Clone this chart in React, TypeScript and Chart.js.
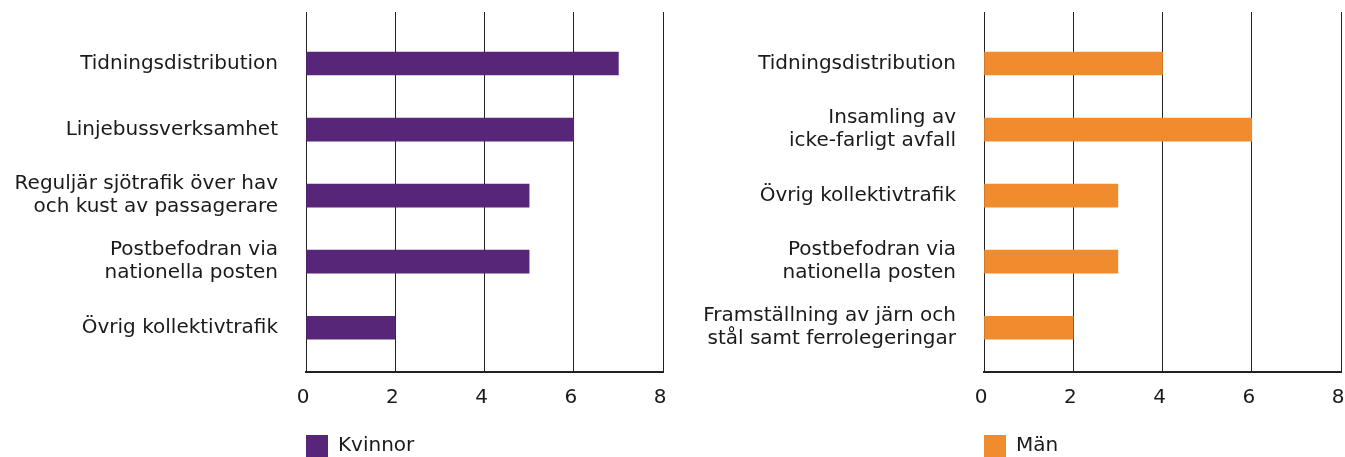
import React, { useEffect, useRef } from "react";
import { Chart, registerables } from "chart.js";

Chart.register(...registerables);

const kvinnorCategories: (string | string[])[] = [
  "Tidningsdistribution",
  "Linjebussverksamhet",
  ["Reguljär sjötrafik över hav", "och kust av passagerare"],
  ["Postbefodran via", "nationella posten"],
  "Övrig kollektivtrafik",
];
const kvinnorValues = [7, 6, 5, 5, 2];

const manCategories: (string | string[])[] = [
  "Tidningsdistribution",
  ["Insamling av", "icke-farligt avfall"],
  "Övrig kollektivtrafik",
  ["Postbefodran via", "nationella posten"],
  ["Framställning av järn och", "stål samt ferrolegeringar"],
];
const manValues = [4, 6, 3, 3, 2];

const xTickValues = [0, 2, 4, 6, 8];
const seriesNames = ["Kvinnor", "Män"];
const seriesColors = ["#582678", "#F08B2E"];

const FONT = "'DejaVu Sans', sans-serif";
const TEXT = "#1a1a1a";

type PanelProps = {
  categories: (string | string[])[];
  values: number[];
  label: string;
  color: string;
  left: number;
  width: number;
  yWidth: number;
  padRight: number;
};

function Panel({ categories, values, label, color, left, width, yWidth, padRight }: PanelProps) {
  const ref = useRef<HTMLCanvasElement>(null);
  useEffect(() => {
    const chart = new Chart(ref.current!, {
      type: "bar",
      data: {
        datasets: [
          {
            label,
            data: values.map((v, i) => ({ x: v, y: i })) as any,
            backgroundColor: color,
            borderWidth: 0,
            barThickness: 23,
          },
        ],
      },
      options: {
        indexAxis: "y",
        responsive: false,
        animation: false,
        layout: { padding: { top: 12, right: padRight, left: 0, bottom: 0 } },
        plugins: {
          legend: {
            position: "bottom",
            align: "start",
            fullSize: false,
            labels: {
              boxWidth: 22,
              boxHeight: 22,
              padding: 0,
              color: TEXT,
              font: { family: FONT, size: 20 },
            },
          },
          tooltip: { enabled: false },
        },
        scales: {
          x: {
            type: "linear",
            min: 0,
            max: 8,
            z: 1,
            afterBuildTicks: (axis: any) => {
              axis.ticks = xTickValues.map((v) => ({ value: v }));
            },
            afterFit: (axis: any) => {
              axis.height = 63;
              axis.paddingLeft = 0;
              axis.paddingRight = 0;
            },
            grid: { color: "#222", lineWidth: 1, drawTicks: false },
            border: { display: true, color: "#222", width: 2 },
            ticks: {
              padding: 14,
              labelOffset: -3,
              color: TEXT,
              font: { family: FONT, size: 20 },
            },
          },
          y: {
            type: "linear",
            reverse: true,
            offset: false,
            min: -0.78,
            max: 4.67,
            afterBuildTicks: (axis: any) => {
              axis.ticks = categories.map((_, i) => ({ value: i }));
            },
            afterFit: (axis: any) => {
              axis.width = yWidth;
              axis.paddingTop = 0;
              axis.paddingBottom = 0;
            },
            grid: { display: false, drawTicks: false, offset: false },
            border: { display: false },
            ticks: {
              padding: 28,
              color: TEXT,
              autoSkip: false,
              callback: (v: any) => categories[Math.round(Number(v))] as any,
              font: { family: FONT, size: 20, lineHeight: 1.15 },
            },
          },
        },
      } as any,
    });
    return () => chart.destroy();
  }, []);
  return (
    <canvas
      ref={ref}
      width={width}
      height={467}
      style={{ position: "absolute", left, top: 0 }}
    />
  );
}

export default function App() {
  return (
    <div
      style={{
        position: "fixed",
        left: 0,
        top: 0,
        width: 1345,
        height: 457,
        overflow: "hidden",
        background: "#fff",
      }}
    >
      <Panel
        categories={kvinnorCategories}
        values={kvinnorValues}
        label={seriesNames[0]}
        color={seriesColors[0]}
        left={0}
        width={672}
        yWidth={306}
        padRight={9}
      />
      <Panel
        categories={manCategories}
        values={manValues}
        label={seriesNames[1]}
        color={seriesColors[1]}
        left={672}
        width={680}
        yWidth={312}
        padRight={11}
      />
    </div>
  );
}
